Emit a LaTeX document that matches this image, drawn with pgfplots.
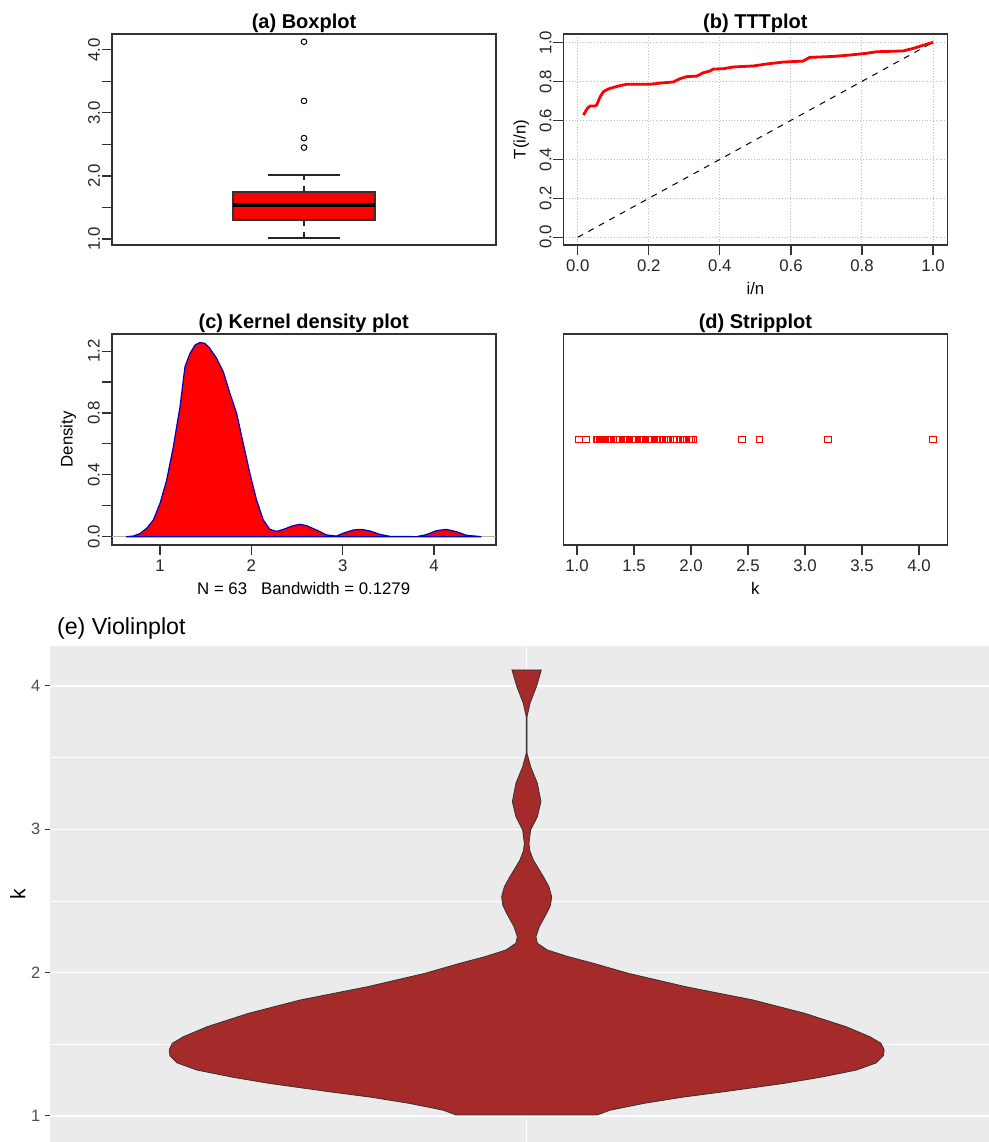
\documentclass[border=0pt]{standalone}
\usepackage{fontspec}
\setmainfont{Liberation Sans}
\usepackage{pgfplots}
\pgfplotsset{compat=1.18}

\definecolor{violinfill}{HTML}{A52A2A}
\definecolor{panelbg}{HTML}{EBEBEB}
\definecolor{gray30}{HTML}{4D4D4D}
\definecolor{gray20}{HTML}{333333}

\pgfplotsset{
  rpanel/.style={
    scale only axis, width=192pt, height=105.6pt,
    axis line style={line width=0.8pt, black!80},
    xtick pos=left, ytick pos=left,
    tick align=outside, major tick length=5pt, minor tick length=5pt,
    tick style={line width=0.6pt, black!80},
    ticklabel style={font=\fontsize{8.4}{10}\selectfont, text=black!85},
    xticklabel style={anchor=base, yshift=-8.3pt},
    yticklabel style={rotate=90, anchor=base},
    yticklabel shift=1pt,
    label style={font=\fontsize{8.4}{10}\selectfont},
    title style={font=\bfseries\fontsize{10}{12}\selectfont, at={(0.5,1)}, anchor=base, yshift=-3.5pt},
    xlabel style={at={(axis description cs:0.5,-0.2366)}, anchor=base},
    ylabel style={at={(axis description cs:-0.11,0.5)}, anchor=center},
  }
}

\begin{document}
\begin{tikzpicture}
\useasboundingbox (0,0) rectangle (494.5pt,-571pt);

% (a) Boxplot
\begin{axis}[rpanel, at={(56pt,-122.5pt)}, anchor=south west,
  title={(a) Boxplot},
  xmin=0.5, xmax=1.5, ymin=0.905, ymax=4.254,
  xtick=\empty,
  ytick={1,1.5,2,2.5,3,3.5,4},
  yticklabels={1.0,{},2.0,{},3.0,{},4.0}]
\addplot[fill=red, draw=black!80, line width=0.6pt] coordinates {(0.815,1.302) (1.185,1.302) (1.185,1.746) (0.815,1.746)} -- cycle;
\addplot[black, line width=2.4pt] coordinates {(0.815,1.54) (1.185,1.54)};
\addplot[black!85, dashed, line width=0.6pt] coordinates {(1,1.746) (1,2.016)};
\addplot[black!85, dashed, line width=0.6pt] coordinates {(1,1.302) (1,1.016)};
\addplot[black!85, line width=0.6pt] coordinates {(0.9075,2.016) (1.0925,2.016)};
\addplot[black!85, line width=0.6pt] coordinates {(0.9075,1.016) (1.0925,1.016)};
\addplot[only marks, mark=o, mark size=1.4pt, mark options={line width=0.5pt, black}] coordinates {(1,2.45) (1,2.60) (1,3.19) (1,4.127)};
\end{axis}

% (b) TTTplot
\begin{axis}[rpanel, at={(281.7pt,-122.5pt)}, anchor=south west,
  title={(b) TTTplot},
  xmin=-0.0405, xmax=1.0405, ymin=-0.0395, ymax=1.044,
  xtick={0,0.2,0.4,0.6,0.8,1},
  xticklabels={0.0,0.2,0.4,0.6,0.8,1.0},
  ytick={0,0.2,0.4,0.6,0.8,1},
  yticklabels={0.0,0.2,0.4,0.6,0.8,1.0},
  grid=major, grid style={densely dotted, black!25, line width=0.5pt},
  xlabel={i/n}, ylabel={T(i/n)}]
\addplot[black, dashed, line width=0.5pt] coordinates {(0,0) (1,1)};
\addplot[red, line width=1.4pt] coordinates {
(0.016,0.627)(0.027,0.662)(0.035,0.674)(0.049,0.674)(0.053,0.679)(0.063,0.721)(0.072,0.747)(0.086,0.761)(0.100,0.769)(0.119,0.778)(0.138,0.785)(0.203,0.785)(0.231,0.791)(0.269,0.797)(0.288,0.814)(0.306,0.824)(0.335,0.827)(0.353,0.844)(0.372,0.853)(0.381,0.863)(0.410,0.865)(0.438,0.874)(0.494,0.879)(0.531,0.889)(0.578,0.899)(0.634,0.904)(0.653,0.923)(0.719,0.928)(0.766,0.935)(0.813,0.944)(0.841,0.952)(0.916,0.956)(0.944,0.969)(0.972,0.985)(1.0,1.0)};
\end{axis}

% (c) Kernel density plot
\begin{axis}[rpanel, at={(55.85pt,-272.5pt)}, anchor=south west,
  title={(c) Kernel density plot},
  xmin=0.471, xmax=4.675, ymin=-0.054, ymax=1.312,
  xtick={1,2,3,4}, xticklabels={1,2,3,4},
  ytick={0,0.2,0.4,0.6,0.8,1,1.2},
  yticklabels={0.0,{},0.4,{},0.8,{},1.2},
  xlabel={N = 63\ \ \ Bandwidth = 0.1279}, ylabel={Density},
  ylabel style={at={(axis description cs:-0.113,0.5)}}]
\addplot[black!30, line width=0.4pt] coordinates {(0.471,0) (4.675,0)};
\addplot[fill=red, draw=blue!75!black, line width=0.6pt] coordinates {
(0.628,0)(0.708,0.004)(0.78,0.02)(0.854,0.054)(0.927,0.108)(1.0,0.215)(1.073,0.366)(1.146,0.582)(1.219,0.84)(1.273,1.099)(1.328,1.185)(1.383,1.239)(1.437,1.256)(1.492,1.25)(1.547,1.217)(1.62,1.153)(1.693,1.066)(1.766,0.926)(1.839,0.797)(1.911,0.603)(1.984,0.409)(2.057,0.237)(2.13,0.108)(2.203,0.047)(2.276,0.034)(2.349,0.047)(2.458,0.071)(2.531,0.08)(2.604,0.071)(2.713,0.043)(2.823,0.011)(2.932,0.004)(3.005,0.022)(3.115,0.043)(3.206,0.047)(3.297,0.037)(3.406,0.015)(3.515,0.002)(3.807,0)(3.917,0.013)(4.026,0.039)(4.135,0.047)(4.245,0.032)(4.354,0.009)(4.518,0)} -- cycle;
\end{axis}

% (d) Stripplot
\begin{axis}[rpanel, at={(281.7pt,-272.5pt)}, anchor=south west,
  title={(d) Stripplot},
  xmin=0.88, xmax=4.249, ymin=0, ymax=2,
  xtick={1,1.5,2,2.5,3,3.5,4},
  xticklabels={1.0,1.5,2.0,2.5,3.0,3.5,4.0},
  ytick=\empty, xlabel={k}]
\addplot[only marks, mark=square, mark size=1.7pt, mark options={red, line width=0.5pt}] coordinates {
(1.016,1)(1.079,1)(1.17,1)(1.18,1)(1.20,1)(1.21,1)(1.22,1)(1.23,1)(1.24,1)(1.25,1)(1.26,1)(1.27,1)(1.28,1)(1.29,1)(1.30,1)(1.30,1)
(1.32,1)(1.34,1)(1.36,1)(1.38,1)(1.40,1)(1.41,1)(1.42,1)(1.43,1)(1.44,1)(1.45,1)(1.46,1)(1.48,1)(1.49,1)(1.50,1)(1.52,1)(1.54,1)
(1.55,1)(1.56,1)(1.57,1)(1.58,1)(1.59,1)(1.60,1)(1.62,1)(1.63,1)(1.65,1)(1.66,1)(1.68,1)(1.69,1)(1.70,1)(1.72,1)(1.73,1)(1.75,1)
(1.78,1)(1.80,1)(1.82,1)(1.85,1)(1.88,1)(1.90,1)(1.93,1)(1.95,1)(1.98,1)(2.00,1)(2.016,1)
(2.45,1)(2.60,1)(3.20,1)(4.12,1)};
\end{axis}

% (e) Violinplot
\begin{axis}[scale only axis, width=469.5pt, height=248.15pt,
  at={(25pt,-571pt)}, anchor=south west,
  axis background/.style={fill=panelbg},
  axis line style={draw=none},
  xmin=0.4, xmax=1.582, ymin=0.818, ymax=4.281,
  xtick={1}, xticklabels={}, xtick style={draw=none},
  ytick={1,2,3,4}, yticklabels={1,2,3,4},
  minor ytick={1.5,2.5,3.5}, minor tick length=0pt,
  ytick pos=left, tick align=outside, major tick length=2.7pt,
  ytick style={gray20, line width=0.5pt},
  xmajorgrids, ymajorgrids, yminorgrids,
  major grid style={white, line width=0.6pt},
  minor grid style={white, line width=0.3pt},
  yticklabel style={font=\fontsize{8.2}{10}\selectfont, text=gray30, anchor=east, inner sep=0pt},
  yticklabel shift=2pt,
  ylabel={k},
  ylabel style={font=\fontsize{10.5}{12}\selectfont, at={(axis description cs:-0.0344,0.5)}, anchor=center},
  title={(e) Violinplot},
  title style={font=\fontsize{11.6}{14}\selectfont, at={(0,1)}, anchor=base west, yshift=-0.6pt}]
\addplot[fill=violinfill, draw=gray20, line width=0.4pt] coordinates {
(1.089,1.007)(1.105,1.040)(1.148,1.088)(1.195,1.130)(1.250,1.170)(1.325,1.228)(1.370,1.270)(1.415,1.320)(1.440,1.370)(1.449,1.420)(1.450,1.460)(1.446,1.507)(1.432,1.553)(1.402,1.623)(1.350,1.716)(1.285,1.809)(1.200,1.902)(1.128,1.995)(1.084,2.065)(1.052,2.112)(1.026,2.158)(1.0135,2.205)(1.0117,2.251)(1.016,2.321)(1.0252,2.414)(1.030,2.470)(1.0315,2.530)(1.028,2.600)(1.021,2.670)(1.0084,2.786)(1.004,2.850)(1.0029,2.902)(1.005,2.995)(1.0135,3.088)(1.018,3.193)(1.0135,3.321)(1.005,3.437)(1.0005,3.530)(1.0005,3.786)(1.0042,3.879)(1.0126,4.000)(1.0185,4.112)
(0.9815,4.112)(0.9874,4.000)(0.9958,3.879)(0.9995,3.786)(0.9995,3.530)(0.995,3.437)(0.9865,3.321)(0.982,3.193)(0.9865,3.088)(0.995,2.995)(0.9971,2.902)(0.996,2.850)(0.9916,2.786)(0.979,2.670)(0.972,2.600)(0.9685,2.530)(0.970,2.470)(0.9748,2.414)(0.984,2.321)(0.9883,2.251)(0.9865,2.205)(0.974,2.158)(0.948,2.112)(0.916,2.065)(0.872,1.995)(0.800,1.902)(0.715,1.809)(0.650,1.716)(0.598,1.623)(0.568,1.553)(0.554,1.507)(0.550,1.460)(0.551,1.420)(0.560,1.370)(0.585,1.320)(0.630,1.270)(0.675,1.228)(0.750,1.170)(0.805,1.130)(0.852,1.088)(0.895,1.040)(0.911,1.007)} -- cycle;
\end{axis}
\end{tikzpicture}
\end{document}
